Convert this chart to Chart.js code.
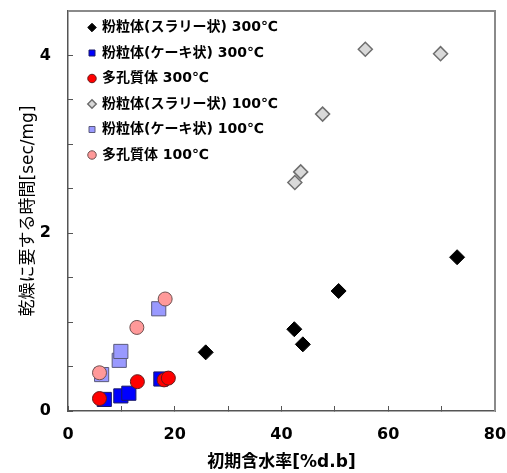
<!DOCTYPE html>
<html>
<head>
<meta charset="utf-8">
<script src="https://cdn.jsdelivr.net/npm/chart.js@4"></script>
<style>
  body { margin: 0; background: #fff; }
  #wrap { width: 507px; height: 473px; }
</style>
</head>
<body>
<div id="wrap"><canvas id="chart_content"></canvas></div>
<script>
// series names (legend)
const seriesNames = [
  "粉粒体(スラリー状) 300℃",
  "粉粒体(ケーキ状) 300℃",
  "多孔質体 300℃",
  "粉粒体(スラリー状) 100℃",
  "粉粒体(ケーキ状) 100℃",
  "多孔質体 100℃"
];

// x = 初期含水率 [%d.b], y = 乾燥に要する時間 [sec/mg]
const slurry300X = [25.8, 42.4, 44.0, 50.7, 72.9];
const slurry300Y = [0.66, 0.92, 0.75, 1.35, 1.73];
const cake300X = [6.8, 9.9, 11.4, 17.4];
const cake300Y = [0.13, 0.17, 0.20, 0.36];
const porous300X = [5.9, 13.0, 18.0, 18.8];
const porous300Y = [0.14, 0.33, 0.35, 0.37];
const slurry100X = [42.5, 43.6, 47.7, 55.7, 69.8];
const slurry100Y = [2.57, 2.69, 3.34, 4.07, 4.02];
const cake100X = [6.3, 9.6, 9.9, 17.0];
const cake100Y = [0.41, 0.57, 0.67, 1.15];
const porous100X = [5.9, 12.9, 18.2];
const porous100Y = [0.43, 0.94, 1.26];

const xTickLabels = [0, 20, 40, 60, 80];
const yTickLabels = [0, 2, 4];

function pts(xs, ys) {
  return xs.map(function(x, i) { return { x: x, y: ys[i] }; });
}

var FONT = '"DejaVu Sans", "Noto Sans CJK JP", sans-serif';

var frame = {
  id: 'frame',
  afterLayout: function(chart) {
    // push legend a little right and down, inside the plot
    chart.legend.left += 9.5;
    chart.legend.top += 9;
  },
  afterDraw: function(chart) {
    var a = chart.chartArea, ctx = chart.ctx;
    ctx.save();
    ctx.strokeStyle = '#8a8a8a';
    ctx.lineWidth = 2;
    ctx.beginPath();
    ctx.moveTo(a.left, a.top);
    ctx.lineTo(a.right, a.top);
    ctx.lineTo(a.right, a.bottom);
    ctx.stroke();
    ctx.restore();
  }
};

function drawChart() {
  var config = {
    type: "scatter",
    data: {
      datasets: [
        { label: seriesNames[0], data: pts(slurry300X, slurry300Y), pointStyle: 'rectRot', radius: 7.5,
          backgroundColor: '#000000', borderColor: '#000000', borderWidth: 1, order: 0 },
        { label: seriesNames[1], data: pts(cake300X, cake300Y), pointStyle: 'rect', radius: 10,
          backgroundColor: '#0000ff', borderColor: '#1a1a66', borderWidth: 1, order: -1 },
        { label: seriesNames[2], data: pts(porous300X, porous300Y), pointStyle: 'circle', radius: 7,
          backgroundColor: '#ff0000', borderColor: '#661a1a', borderWidth: 1, order: -2 },
        { label: seriesNames[3], data: pts(slurry100X, slurry100Y), pointStyle: 'rectRot', radius: 7,
          backgroundColor: '#d9d9d9', borderColor: '#6e6e6e', borderWidth: 1.5, order: -3 },
        { label: seriesNames[4], data: pts(cake100X, cake100Y), pointStyle: 'rect', radius: 10,
          backgroundColor: '#9999ff', borderColor: '#5a5a7a', borderWidth: 1, order: -4 },
        { label: seriesNames[5], data: pts(porous100X, porous100Y), pointStyle: 'circle', radius: 7,
          backgroundColor: '#ff9999', borderColor: '#6e5050', borderWidth: 1, order: -5 }
      ]
    },
    options: {
      responsive: true,
      maintainAspectRatio: false,
      animation: false,
      layout: { padding: { top: 10, right: 12, left: 0, bottom: 0 } },
      plugins: {
        tooltip: { enabled: false },
        legend: {
          position: 'chartArea',
          align: 'start',
          labels: {
            usePointStyle: true,
            boxWidth: 6,
            boxHeight: 6,
            padding: 11.5,
            color: '#000',
            font: { family: FONT, size: 14, weight: 'bold' },
            sort: function(a, b) { return a.datasetIndex - b.datasetIndex; }
          }
        }
      },
      scales: {
        x: {
          type: 'linear',
          min: 0, max: 80,
          afterFit: function(s) { s.height = 62; s.paddingLeft = 0; s.paddingRight = 0; },
          grid: { drawOnChartArea: false, drawTicks: true, tickLength: -5, color: '#555' },
          border: { display: true, color: '#555', width: 1.5 },
          ticks: {
            stepSize: 10,
            padding: 19,
            color: '#000',
            maxRotation: 0,
            font: { family: FONT, size: 16, weight: 'bold' },
            callback: function(v) { return xTickLabels.indexOf(v) >= 0 ? String(v) : ''; }
          },
          title: {
            display: true,
            text: '初期含水率[%d.b]',
            color: '#000',
            padding: 0,
            font: { family: FONT, size: 17, weight: 'bold' }
          }
        },
        y: {
          type: 'linear',
          min: 0, max: 4.5,
          afterFit: function(s) { s.width = 68; s.paddingTop = 0; s.paddingBottom = 0; },
          grid: { drawOnChartArea: false, drawTicks: true, tickLength: -5, color: '#555' },
          border: { display: true, color: '#555', width: 1.5 },
          ticks: {
            stepSize: 0.5,
            padding: 22,
            color: '#000',
            font: { family: FONT, size: 16, weight: 'bold' },
            callback: function(v) { return yTickLabels.indexOf(v) >= 0 ? String(v) : ''; }
          },
          title: {
            display: true,
            text: '乾燥に要する時間[sec/mg]',
            color: '#000',
            padding: { top: 18, bottom: 0 },
            font: { family: FONT, size: 17, weight: 'normal' }
          }
        }
      }
    },
    plugins: [frame]
  };
  new Chart(document.getElementById("chart_content"), config);
}

drawChart();
</script>
</body>
</html>
